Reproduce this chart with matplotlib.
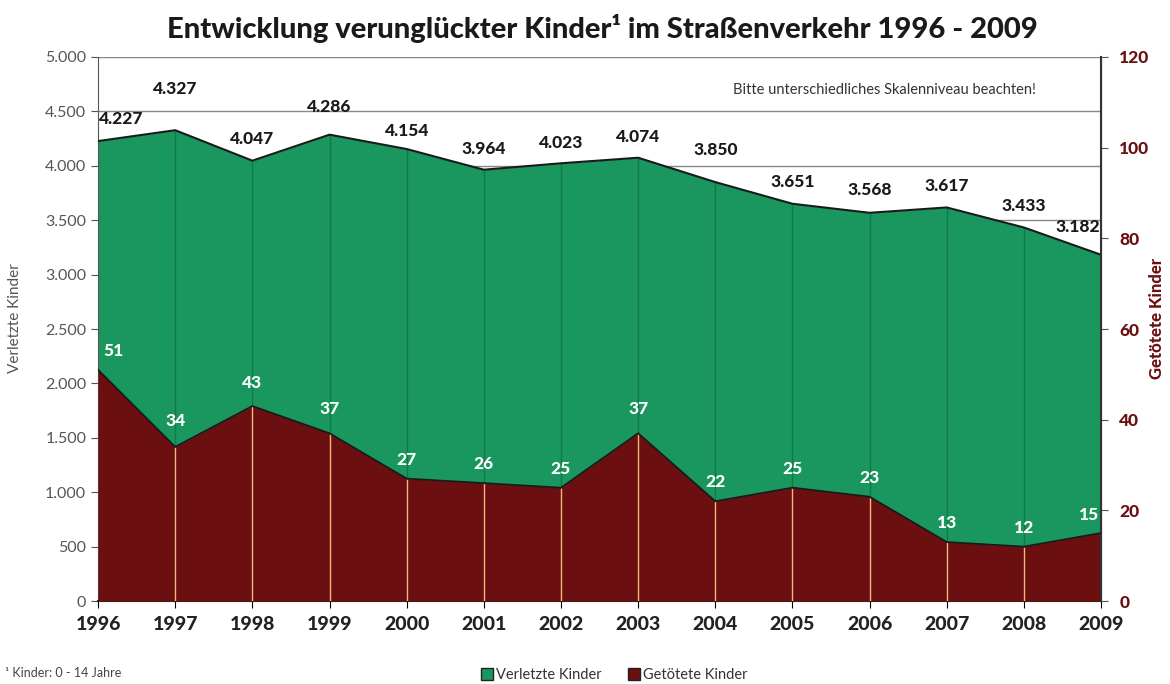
import numpy as np
import matplotlib.pyplot as plt
from matplotlib.patches import Patch

years = [1996, 1997, 1998, 1999, 2000, 2001, 2002, 2003, 2004, 2005, 2006, 2007, 2008, 2009]
verletzte = [4227, 4327, 4047, 4286, 4154, 3964, 4023, 4074, 3850, 3651, 3568, 3617, 3433, 3182]
getoetete = [51, 34, 43, 37, 27, 26, 25, 37, 22, 25, 23, 13, 12, 15]

GREEN = '#19975f'
GREEN_DARK = '#0f7a45'
RED = '#6b0f10'
ORANGE = '#f2bb7a'
GRAY = '#555555'

plt.rcParams['font.family'] = ['Lato', 'DejaVu Sans']

fig = plt.figure(figsize=(11.7, 6.84), dpi=100)
ax = fig.add_axes([0.0838, 0.1213, 0.8573, 0.7954])
ax2 = ax.twinx()

x = np.array(years)
v = np.array(verletzte)
g = np.array(getoetete)

# Verletzte (left axis)
ax.fill_between(x, 0, v, color=GREEN, lw=0, zorder=2)
ax.plot(x, v, color='#1a1a1a', lw=1.5, zorder=3)
ax.vlines(x[1:-1], 0, v[1:-1], color=GREEN_DARK, lw=1, zorder=2.5)
ax.set_ylim(0, 5000)
ax.set_xlim(1996, 2009)
ax.set_yticks(np.arange(0, 5001, 500))
ax.set_yticklabels([f'{t:,}'.replace(',', '.') for t in range(0, 5001, 500)],
                   color=GRAY, fontsize=11.5)
ax.grid(axis='y', color='#888888', lw=1)
ax.set_axisbelow(True)
ax.set_xticks(years)
ax.set_xticklabels([str(y) for y in years], fontsize=14, fontweight='black', color='#222222')
ax.tick_params(axis='x', length=5, pad=6)
ax.tick_params(axis='y', length=5, color=GRAY)

# label offsets (points) above the green line
v_off = [10, 24, 10, 14, 7, 9, 9, 9, 17, 10, 11, 10, 10, 14]
for i, (xi, vi) in enumerate(zip(x, v)):
    ha = 'center'
    dx = 0
    if i == 0:
        ha, dx = 'left', 1
    elif i == len(x) - 1:
        ha, dx = 'right', -1
    ax.annotate(f'{vi:,}'.replace(',', '.'), (xi, vi), xytext=(dx, v_off[i]),
                textcoords='offset points', ha=ha, va='bottom',
                fontsize=12.5, fontweight='black', color='#1a1a1a', zorder=5)

# Getoetete (right axis)
ax2.fill_between(x, 0, g, color=RED, lw=0, zorder=2)
ax2.plot(x, g, color='#1a1a1a', lw=1.3, zorder=3)
ax2.vlines(x[1:-1], 0, g[1:-1], color=ORANGE, lw=1, zorder=2.5)
ax2.set_ylim(0, 120)
ax2.set_yticks(np.arange(0, 121, 20))
ax2.set_yticklabels([str(t) for t in range(0, 121, 20)], color=RED,
                    fontsize=12.5, fontweight='black')
ax2.tick_params(axis='y', length=5, color=GRAY, pad=8)

g_off = [8, 13, 11, 12, 8, 8, 8, 12, 8, 8, 8, 8, 8, 7]
for i, (xi, gi) in enumerate(zip(x, g)):
    ha = 'center'
    dx = 0
    if i == 0:
        ha, dx = 'left', 4
    elif i == len(x) - 1:
        ha, dx = 'right', -1
    ax2.annotate(str(gi), (xi, gi), xytext=(dx, g_off[i]),
                 textcoords='offset points', ha=ha, va='bottom',
                 fontsize=12.5, fontweight='black', color='white', zorder=5)

for a in (ax, ax2):
    a.spines['top'].set_visible(False)
ax.spines['left'].set_color(GRAY)
ax.spines['bottom'].set_color('#222222')
ax.spines['bottom'].set_linewidth(1.5)
ax2.spines['right'].set_color('#333333')
ax2.spines['right'].set_linewidth(1.5)
ax2.spines['left'].set_visible(False)
ax2.spines['bottom'].set_visible(False)

# axis titles
fig.text(0.013, 0.535, 'Verletzte Kinder', rotation=90, ha='center', va='center',
         color=GRAY, fontsize=11)
fig.text(0.989, 0.535, 'Getötete Kinder', rotation=90, ha='center', va='center',
         color=RED, fontsize=12, fontweight='black')

fig.text(0.515, 0.958, 'Entwicklung verunglückter Kinder¹ im Straßenverkehr 1996 - 2009',
         ha='center', va='center', fontsize=21, fontweight='black', color='#1a1a1a')
ax.text(0.935, 0.94, 'Bitte unterschiedliches Skalenniveau beachten!', transform=ax.transAxes,
        ha='right', va='center', fontsize=10.5, color='#333333')
fig.text(0.004, 0.007, '¹ Kinder: 0 - 14 Jahre', ha='left', va='bottom', fontsize=9, color='#444444')

handles = [Patch(facecolor=GREEN, edgecolor='#222222', label='Verletzte Kinder'),
           Patch(facecolor=RED, edgecolor='#222222', label='Getötete Kinder')]
fig.legend(handles=handles, loc='center', bbox_to_anchor=(0.525, 0.013), ncol=2,
           frameon=False, fontsize=10.5, handlelength=0.8, handleheight=0.8,
           handletextpad=0.2, columnspacing=1.8, labelcolor='#333333')

fig.savefig('out.png', dpi=100)
